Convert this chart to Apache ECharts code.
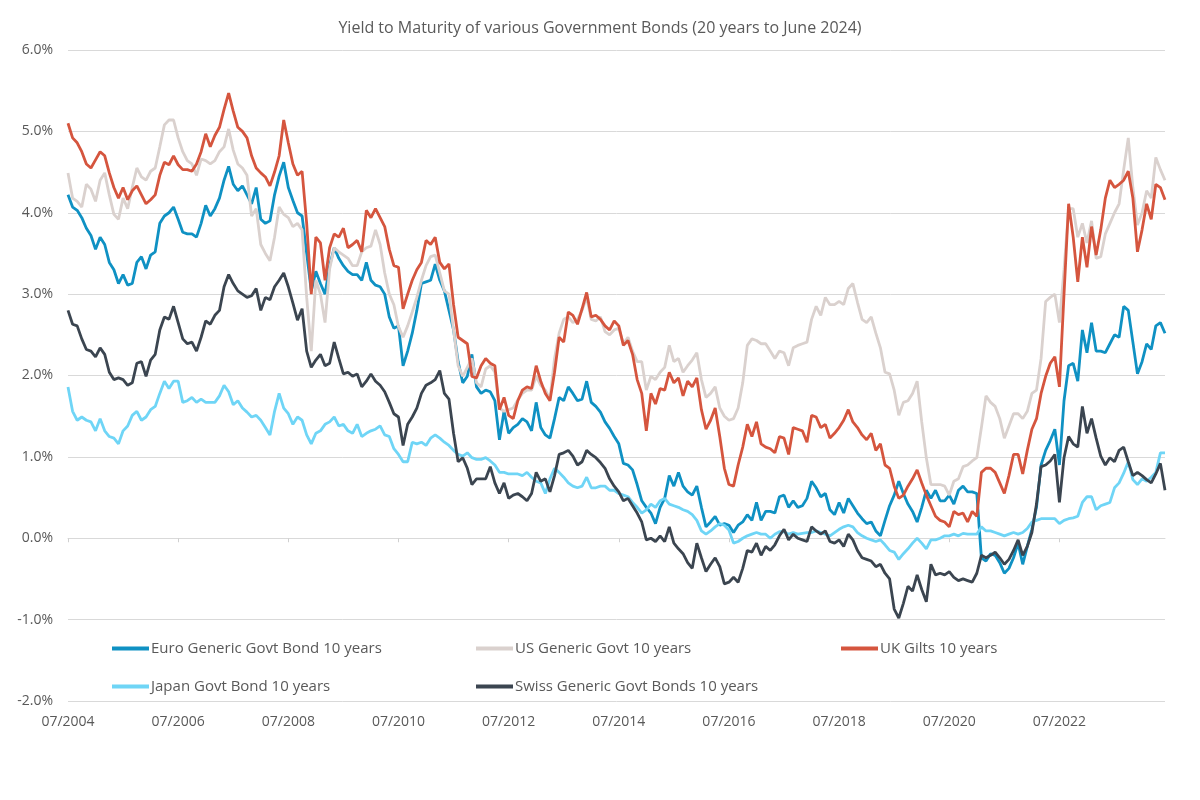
<!DOCTYPE html>
<html>
<head>
<meta charset="utf-8">
<script src="https://cdn.jsdelivr.net/npm/echarts@6/dist/echarts.min.js"></script>
<style>
html,body{margin:0;padding:0;background:#fff;}
#chart{width:1200px;height:800px;}
</style>
</head>
<body>
<div id="chart"></div>
<script>
// Monthly observations, 07/2004 .. 06/2024 (240 months)
var startYear = 2004, startMonth = 7, monthCount = 240;
var tickLabels = ['07/2004','07/2006','07/2008','07/2010','07/2012','07/2014','07/2016','07/2018','07/2020','07/2022'];
var yTicks = [-2, -1, 0, 1, 2, 3, 4, 5, 6];

var seriesNames = [
  'Euro Generic Govt Bond 10 years',
  'US Generic Govt 10 years',
  'UK Gilts 10 years',
  'Japan Govt Bond 10 years',
  'Swiss Generic Govt Bonds 10 years'
];

var euro = [
  4.22,4.07,4.03,3.94,3.81,3.72,3.55,3.70,3.61,3.39,3.30,3.13,
  3.24,3.11,3.13,3.39,3.46,3.31,3.48,3.52,3.87,3.96,4.00,4.07,
  3.92,3.76,3.74,3.74,3.70,3.87,4.09,3.96,4.05,4.18,4.40,4.57,
  4.35,4.27,4.33,4.22,4.11,4.31,3.92,3.87,3.90,4.22,4.45,4.62,
  4.31,4.15,4.00,3.96,3.50,3.04,3.28,3.13,3.00,3.35,3.57,3.44,
  3.35,3.28,3.24,3.24,3.17,3.39,3.17,3.11,3.09,3.00,2.72,2.58,
  2.61,2.12,2.30,2.52,2.80,3.13,3.15,3.17,3.37,3.17,3.04,2.80,
  2.56,2.17,1.91,1.99,2.26,1.86,1.78,1.82,1.80,1.69,1.21,1.56,
  1.29,1.36,1.40,1.47,1.43,1.32,1.67,1.36,1.27,1.23,1.47,1.73,
  1.69,1.86,1.78,1.69,1.71,1.93,1.67,1.62,1.55,1.43,1.35,1.25,
  1.16,0.92,0.90,0.84,0.66,0.46,0.38,0.31,0.18,0.38,0.49,0.77,
  0.64,0.81,0.64,0.57,0.53,0.64,0.38,0.14,0.20,0.27,0.16,0.18,
  0.16,0.07,0.16,0.20,0.29,0.22,0.44,0.22,0.33,0.33,0.31,0.51,
  0.53,0.38,0.46,0.38,0.40,0.49,0.70,0.62,0.51,0.55,0.35,0.29,
  0.44,0.31,0.49,0.40,0.31,0.24,0.18,0.20,0.09,0.03,0.22,0.40,
  0.53,0.70,0.55,0.42,0.33,0.20,0.38,0.59,0.49,0.59,0.46,0.46,
  0.53,0.42,0.59,0.64,0.57,0.57,0.55,-0.24,-0.28,-0.19,-0.21,-0.30,
  -0.43,-0.37,-0.24,-0.06,-0.32,-0.10,0.11,0.38,0.90,1.08,1.20,1.34,
  0.90,1.69,2.12,2.15,1.93,2.56,2.28,2.65,2.30,2.30,2.28,2.39,
  2.50,2.47,2.85,2.80,2.41,2.02,2.17,2.39,2.32,2.61,2.65,2.52
];

var us = [
  4.49,4.18,4.14,4.07,4.35,4.29,4.14,4.40,4.49,4.22,3.98,3.92,
  4.18,4.05,4.31,4.55,4.44,4.40,4.51,4.55,4.81,5.08,5.14,5.14,
  4.92,4.75,4.64,4.60,4.46,4.66,4.64,4.60,4.64,4.75,4.81,5.03,
  4.77,4.60,4.55,4.46,3.96,4.05,3.61,3.50,3.41,3.70,4.07,3.98,
  3.94,3.83,3.87,3.79,2.96,2.30,3.17,3.00,2.65,3.31,3.57,3.52,
  3.48,3.44,3.35,3.35,3.52,3.57,3.59,3.79,3.61,3.26,3.00,2.87,
  2.60,2.47,2.61,2.78,2.96,3.17,3.35,3.46,3.48,3.26,3.04,3.00,
  2.56,2.12,1.99,2.10,2.21,1.91,1.86,2.08,2.12,2.04,1.60,1.56,
  1.58,1.60,1.70,1.78,1.82,1.82,1.99,1.88,1.82,1.71,2.21,2.52,
  2.69,2.72,2.65,2.69,2.80,2.96,2.69,2.67,2.72,2.54,2.50,2.56,
  2.58,2.39,2.47,2.30,2.17,2.17,1.82,1.99,1.95,2.04,2.10,2.37,
  2.17,2.21,2.04,2.12,2.19,2.28,1.95,1.73,1.78,1.86,1.60,1.50,
  1.45,1.47,1.60,1.91,2.37,2.45,2.43,2.39,2.39,2.30,2.21,2.30,
  2.28,2.12,2.34,2.37,2.39,2.41,2.69,2.85,2.74,2.96,2.87,2.87,
  2.91,2.87,3.07,3.13,2.90,2.69,2.65,2.72,2.52,2.34,2.04,2.02,
  1.82,1.51,1.67,1.69,1.78,1.93,1.43,0.99,0.66,0.66,0.66,0.64,
  0.53,0.70,0.73,0.88,0.90,0.95,0.99,1.36,1.75,1.67,1.62,1.47,
  1.23,1.38,1.53,1.53,1.47,1.56,1.78,1.82,2.21,2.91,2.96,3.00,
  2.65,3.30,4.05,4.05,3.70,3.87,3.63,3.90,3.44,3.46,3.74,3.87,
  4.00,4.11,4.53,4.92,4.31,3.85,4.00,4.27,4.18,4.68,4.53,4.40
];

var uk = [
  5.10,4.92,4.86,4.75,4.60,4.55,4.65,4.75,4.70,4.49,4.31,4.18,
  4.31,4.16,4.27,4.33,4.22,4.11,4.16,4.22,4.46,4.62,4.59,4.70,
  4.59,4.53,4.53,4.51,4.60,4.75,4.97,4.81,4.95,5.05,5.27,5.47,
  5.25,5.05,5.00,4.92,4.70,4.55,4.49,4.44,4.33,4.50,4.70,5.14,
  4.86,4.60,4.46,4.51,3.87,3.00,3.70,3.63,3.17,3.57,3.74,3.70,
  3.81,3.57,3.61,3.66,3.52,4.03,3.94,4.05,3.94,3.83,3.55,3.35,
  3.33,2.82,3.00,3.17,3.30,3.39,3.66,3.61,3.70,3.39,3.31,3.37,
  2.87,2.47,2.43,2.39,1.99,1.97,2.12,2.21,2.15,2.12,1.58,1.73,
  1.51,1.47,1.69,1.82,1.86,1.84,2.12,1.93,1.78,1.69,2.04,2.47,
  2.41,2.78,2.74,2.63,2.82,3.02,2.72,2.74,2.69,2.61,2.56,2.67,
  2.61,2.37,2.43,2.26,1.95,1.78,1.32,1.78,1.65,1.84,1.82,2.04,
  1.91,1.97,1.75,1.93,1.86,1.97,1.58,1.34,1.45,1.60,1.25,0.86,
  0.66,0.64,0.90,1.12,1.40,1.25,1.43,1.16,1.12,1.10,1.05,1.25,
  1.23,1.03,1.36,1.34,1.32,1.18,1.51,1.49,1.36,1.40,1.23,1.29,
  1.36,1.45,1.58,1.43,1.36,1.27,1.21,1.29,1.08,1.16,0.90,0.86,
  0.64,0.49,0.53,0.64,0.73,0.84,0.68,0.53,0.40,0.27,0.22,0.20,
  0.14,0.33,0.29,0.31,0.20,0.33,0.27,0.81,0.86,0.86,0.81,0.68,
  0.55,0.77,1.03,1.03,0.79,1.08,1.34,1.47,1.78,1.99,2.15,2.23,
  1.86,3.00,4.11,3.70,3.15,3.70,3.33,3.83,3.48,3.79,4.18,4.40,
  4.31,4.35,4.40,4.51,4.18,3.52,3.79,4.11,3.92,4.35,4.31,4.16
];

var japan = [
  1.86,1.56,1.45,1.49,1.45,1.43,1.32,1.47,1.32,1.25,1.23,1.16,
  1.32,1.38,1.51,1.56,1.45,1.49,1.58,1.62,1.78,1.93,1.84,1.93,
  1.93,1.67,1.69,1.73,1.67,1.71,1.67,1.67,1.67,1.75,1.88,1.80,
  1.64,1.69,1.60,1.55,1.49,1.51,1.45,1.36,1.27,1.56,1.78,1.60,
  1.53,1.40,1.49,1.45,1.27,1.16,1.29,1.32,1.40,1.43,1.49,1.38,
  1.40,1.32,1.29,1.40,1.25,1.29,1.32,1.34,1.38,1.27,1.25,1.10,
  1.03,0.94,0.94,1.18,1.16,1.18,1.14,1.23,1.27,1.23,1.18,1.14,
  1.08,1.03,1.01,1.05,0.99,0.97,0.97,0.99,0.95,0.90,0.81,0.81,
  0.79,0.79,0.79,0.77,0.81,0.75,0.70,0.68,0.55,0.73,0.86,0.81,
  0.75,0.68,0.64,0.62,0.64,0.75,0.62,0.62,0.64,0.64,0.59,0.59,
  0.55,0.53,0.51,0.44,0.38,0.31,0.35,0.42,0.38,0.46,0.49,0.42,
  0.40,0.38,0.35,0.33,0.29,0.22,0.09,0.05,0.09,0.14,0.18,0.16,
  0.10,-0.06,-0.04,0.00,0.03,0.05,0.07,0.05,0.05,0.00,0.05,0.08,
  0.08,0.05,0.07,0.05,0.06,0.07,0.07,0.09,0.07,0.05,0.03,0.07,
  0.11,0.14,0.16,0.14,0.07,0.03,0.00,-0.02,-0.04,-0.02,-0.08,-0.15,
  -0.17,-0.26,-0.19,-0.13,-0.06,0.00,-0.06,-0.13,-0.02,-0.02,0.00,0.03,
  0.03,0.05,0.03,0.06,0.05,0.05,0.05,0.14,0.09,0.09,0.07,0.05,
  0.03,0.05,0.07,0.05,0.07,0.12,0.20,0.22,0.24,0.24,0.24,0.24,
  0.18,0.22,0.24,0.25,0.27,0.44,0.51,0.51,0.35,0.40,0.42,0.44,
  0.62,0.68,0.80,0.94,0.72,0.66,0.73,0.70,0.75,0.81,1.05,1.05
];

var swiss = [
  2.80,2.63,2.61,2.45,2.32,2.30,2.23,2.34,2.26,2.04,1.95,1.97,
  1.95,1.88,1.91,2.15,2.17,1.99,2.19,2.26,2.56,2.72,2.69,2.85,
  2.65,2.45,2.39,2.41,2.30,2.47,2.67,2.63,2.74,2.80,3.09,3.24,
  3.13,3.04,3.00,2.96,2.98,3.07,2.80,2.96,2.93,3.09,3.17,3.26,
  3.09,2.89,2.68,2.82,2.30,2.10,2.19,2.26,2.12,2.15,2.41,2.21,
  2.02,2.04,1.99,2.02,1.86,1.93,2.02,1.93,1.88,1.80,1.67,1.53,
  1.49,1.14,1.40,1.49,1.60,1.78,1.88,1.91,1.95,2.06,1.78,1.71,
  1.29,0.94,0.99,0.86,0.66,0.73,0.73,0.73,0.88,0.68,0.55,0.68,
  0.49,0.53,0.55,0.51,0.46,0.55,0.81,0.70,0.73,0.57,0.77,1.03,
  1.05,1.08,1.01,0.90,0.94,1.08,1.03,0.99,0.93,0.86,0.73,0.64,
  0.57,0.46,0.49,0.40,0.31,0.20,-0.02,0.00,-0.04,0.03,-0.04,0.14,
  -0.06,-0.13,-0.19,-0.30,-0.37,-0.06,-0.24,-0.41,-0.32,-0.24,-0.35,-0.56,
  -0.54,-0.48,-0.54,-0.37,-0.15,-0.17,-0.06,-0.21,-0.10,-0.15,-0.08,0.03,
  0.11,-0.02,0.05,0.00,-0.02,-0.04,0.14,0.09,0.05,0.09,-0.04,-0.06,
  -0.02,-0.10,0.05,-0.02,-0.15,-0.24,-0.26,-0.28,-0.35,-0.32,-0.43,-0.50,
  -0.87,-0.98,-0.80,-0.59,-0.65,-0.45,-0.63,-0.78,-0.32,-0.45,-0.43,-0.45,
  -0.41,-0.48,-0.52,-0.50,-0.52,-0.54,-0.43,-0.21,-0.24,-0.21,-0.17,-0.24,
  -0.32,-0.26,-0.15,-0.02,-0.21,-0.10,0.07,0.42,0.88,0.90,0.95,1.03,
  0.44,0.99,1.25,1.16,1.12,1.62,1.29,1.47,1.23,1.01,0.90,0.99,
  0.94,1.08,1.12,0.94,0.77,0.81,0.77,0.72,0.68,0.79,0.92,0.59
];

var colors = ['#0f91c3', '#dad1ce', '#d5553e', '#6fd5f6', '#3b4550'];
var seriesData = [euro, us, uk, japan, swiss];

// month category labels
var categories = [];
for (var i = 0; i < monthCount; i++) {
  var mm = (startMonth - 1 + i) % 12 + 1;
  var yy = startYear + Math.floor((startMonth - 1 + i) / 12);
  categories.push((mm < 10 ? '0' : '') + mm + '/' + yy);
}
function isTick(idx, val) { return tickLabels.indexOf(categories[idx]) >= 0; }

var FONT = '"Open Sans", "Noto Sans", sans-serif';
var TXT = '#595959';

var legendPos = [
  {left: 112, top: 641},
  {left: 476, top: 641},
  {left: 841, top: 641},
  {left: 112, top: 679},
  {left: 476, top: 679}
];

var chart = echarts.init(document.getElementById('chart'), null, {renderer: 'canvas'});
chart.setOption({
  animation: false,
  backgroundColor: '#ffffff',
  color: colors,
  textStyle: {fontFamily: FONT},
  title: {
    text: 'Yield to Maturity of various Government Bonds (20 years to June 2024)',
    left: 'center',
    top: 15,
    textStyle: {fontFamily: FONT, fontSize: 16, fontWeight: 'normal', color: TXT}
  },
  legend: seriesNames.map(function (n, k) {
    return {
      data: [n],
      left: legendPos[k].left,
      top: legendPos[k].top,
      padding: 0,
      itemGap: 0,
      icon: 'rect',
      itemWidth: 37,
      itemHeight: 4,
      selectedMode: false,
      textStyle: {fontFamily: FONT, fontSize: 15, color: TXT, padding: [0, 0, 0, -3]}
    };
  }),
  grid: {left: 68, right: 35, top: 50, bottom: 99, containLabel: false},
  xAxis: [
    {
      type: 'category',
      data: categories,
      boundaryGap: false,
      position: 'bottom',
      axisLine: {show: false, onZero: false},
      axisTick: {show: false},
      splitLine: {show: false},
      axisLabel: {
        interval: isTick,
        color: TXT,
        fontFamily: FONT,
        fontSize: 14,
        margin: 14
      }
    },
    {
      type: 'category',
      data: categories,
      boundaryGap: false,
      position: 'bottom',
      axisLine: {show: true, onZero: true, lineStyle: {color: '#d9d9d9', width: 1}},
      axisTick: {show: true, interval: isTick, length: 4, lineStyle: {color: '#d0d0d0'}},
      axisLabel: {show: false},
      splitLine: {show: false}
    }
  ],
  yAxis: {
    type: 'value',
    min: yTicks[0],
    max: yTicks[yTicks.length - 1],
    interval: 1,
    axisLine: {show: false},
    axisTick: {show: false},
    splitLine: {lineStyle: {color: '#d9d9d9', width: 1}},
    axisLabel: {
      color: TXT,
      fontFamily: FONT,
      fontSize: 14,
      margin: 15,
      formatter: function (v) { return v.toFixed(1) + '%'; }
    }
  },
  series: seriesNames.map(function (n, k) {
    return {
      name: n,
      type: 'line',
      xAxisIndex: 0,
      data: seriesData[k],
      showSymbol: false,
      symbol: 'none',
      smooth: false,
      lineStyle: {width: 2.8, color: colors[k]},
      itemStyle: {color: colors[k]},
      emphasis: {disabled: true}
    };
  })
});
</script>
</body>
</html>
